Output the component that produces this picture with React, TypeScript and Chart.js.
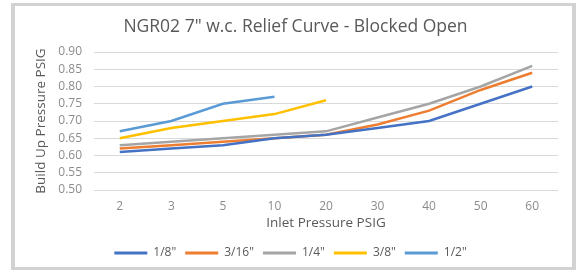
import React, { useEffect, useRef } from "react";
import { Chart, registerables } from "chart.js";

Chart.register(...registerables);

const categories = ["2", "3", "5", "10", "20", "30", "40", "50", "60"];
const s18 = [0.61, 0.62, 0.63, 0.65, 0.66, 0.68, 0.70, 0.75, 0.80];
const s316 = [0.62, 0.63, 0.64, 0.65, 0.66, 0.69, 0.73, 0.79, 0.84];
const s14 = [0.63, 0.64, 0.65, 0.66, 0.67, 0.71, 0.75, 0.80, 0.86];
const s38 = [0.65, 0.68, 0.70, 0.72, 0.76];
const s12 = [0.67, 0.70, 0.75, 0.77];
const seriesNames = ['1/8"', '3/16"', '1/4"', '3/8"', '1/2"'];
const seriesColors = ["#4472C4", "#ED7D31", "#A5A5A5", "#FFC000", "#5B9BD5"];

const shiftLegend = {
  id: "shiftLegend",
  afterLayout(chart: any) {
    if (chart.legend) {
      chart.legend.left -= 5;
      chart.legend.right -= 5;
    }
  },
};

export default function App() {
  const ref = useRef<HTMLCanvasElement>(null);
  useEffect(() => {
    document.body.style.margin = "0";
    const data = [s18, s316, s14, s38, s12];
    const chart = new Chart(ref.current!, {
      type: "line",
      data: {
        labels: categories,
        datasets: data.map((d, i) => ({
          label: seriesNames[i],
          data: d,
          borderColor: seriesColors[i],
          backgroundColor: seriesColors[i],
          borderWidth: 2.5,
          pointRadius: 0,
          tension: 0,
        })),
      },
      plugins: [shiftLegend],
      options: {
        animation: false,
        responsive: false,
        maintainAspectRatio: false,
        layout: { padding: { left: 18, right: 14, top: 0, bottom: -2 } },
        plugins: {
          title: {
            display: true,
            text: 'NGR02 7" w.c. Relief Curve - Blocked Open',
            color: "#595959",
            font: { family: "Open Sans", size: 17.5, weight: "normal" },
            padding: { top: 11, bottom: 14 },
          },
          legend: {
            position: "bottom",
            labels: {
              color: "#595959",
              font: { family: "Open Sans", size: 12 },
              boxWidth: 33,
              boxHeight: 3,
              padding: 9,
              generateLabels: (c) =>
                c.data.datasets.map((ds, i) => ({
                  text: ds.label as string,
                  fillStyle: seriesColors[i],
                  strokeStyle: seriesColors[i],
                  lineWidth: 0,
                  datasetIndex: i,
                  fontColor: "#595959",
                })),
            },
          },
          tooltip: { enabled: false },
        },
        scales: {
          x: {
            offset: true,
            grid: { display: false, drawTicks: false },
            border: { display: false },
            ticks: { color: "#8c8c8c", font: { family: "Open Sans", size: 12 }, padding: 9, autoSkip: false, maxRotation: 0 },
            title: {
              display: true,
              text: "Inlet Pressure PSIG",
              color: "#595959",
              font: { family: "Open Sans", size: 13.5 },
              padding: { top: 2, bottom: 7 },
            },
            afterFit: (s: any) => {
              s.height = 48;
            },
          },
          y: {
            min: 0.5,
            max: 0.9,
            ticks: {
              stepSize: 0.05,
              autoSkip: false,
              color: "#8c8c8c",
              font: { family: "Open Sans", size: 12 },
              padding: 12,
              callback: (v) => Number(v).toFixed(2),
            },
            grid: { color: "#d9d9d9", drawTicks: false },
            border: { display: false },
            title: {
              display: true,
              text: "Build Up Pressure PSIG",
              color: "#595959",
              font: { family: "Open Sans", size: 13.5 },
              padding: { top: 0, bottom: 0 },
            },
            afterFit: (s: any) => {
              s.width = 61;
            },
          },
        },
      },
    });
    return () => chart.destroy();
  }, []);
  return (
    <div style={{ position: "absolute", left: 0, top: 0, width: 577, height: 270, background: "#fff" }}>
      <div
        style={{
          position: "absolute",
          left: 11,
          top: 3,
          width: 557,
          height: 261,
          borderStyle: "solid",
          borderColor: "#d2d2d2",
          borderWidth: "3px 4px 3px 4px",
          background: "#fff",
        }}
      >
        <canvas ref={ref} width={557} height={261} style={{ display: "block" }} />
      </div>
    </div>
  );
}
